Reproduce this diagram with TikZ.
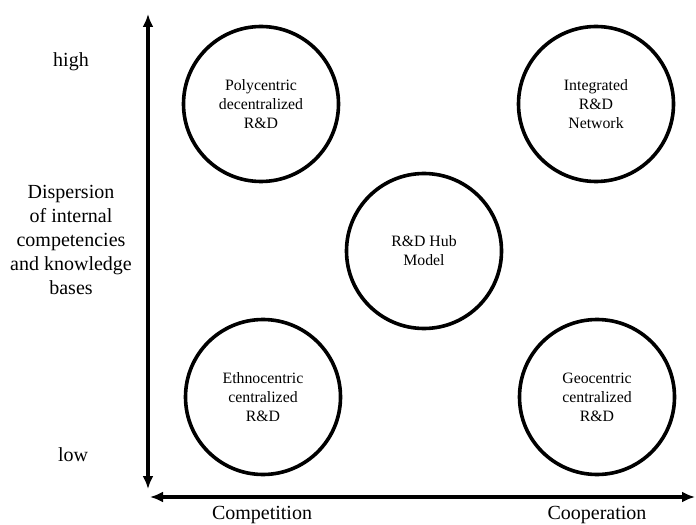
\documentclass[tikz,border=0pt]{standalone}
\usepackage{fontspec}
\setmainfont{Liberation Serif}
\usetikzlibrary{arrows.meta}
\begin{document}
\begin{tikzpicture}[x=1bp,y=-1bp,
  modelcircle/.style={circle, draw, line width=3.6bp, minimum size=155bp, inner sep=0pt,
    align=center, font=\fontsize{15.8bp}{19bp}\selectfont},
  axislabel/.style={align=center, inner sep=0pt, font=\fontsize{20bp}{24bp}\selectfont},
  axisline/.style={line width=3.4bp, {Latex[length=13bp,width=11bp]}-{Latex[length=13bp,width=11bp]}}]
\useasboundingbox (0,0) rectangle (696,525);

% axes
\coordinate (vtop) at (148,14);
\coordinate (vbot) at (148,489);
\coordinate (hleft) at (150,497);
\coordinate (hright) at (695,497);
\draw[axisline] (vbot) -- (vtop);
\draw[axisline] (hleft) -- (hright);

% axis labels
\node[axislabel] (high) at (71,62) {high};
\node[axislabel] (low) at (73,455) {low};
\node[axislabel] (disp) at (71,240) {Dispersion\\of internal\\competencies\\and knowledge\\bases};
\node[axislabel] (comp) at (262,515) {Competition};
\node[axislabel] (coop) at (597,515) {Cooperation};

% organisational models
\node[modelcircle] (poly) at (261,104) {Polycentric\\decentralized\\R\&D};
\node[modelcircle] (integ) at (596,104) {Integrated\\R\&D\\Network};
\node[modelcircle] (hub) at (424,251) {R\&D Hub\\Model};
\node[modelcircle] (ethno) at (263,397) {Ethnocentric\\centralized\\R\&D};
\node[modelcircle] (geo) at (597,397) {Geocentric\\centralized\\R\&D};
\end{tikzpicture}
\end{document}
